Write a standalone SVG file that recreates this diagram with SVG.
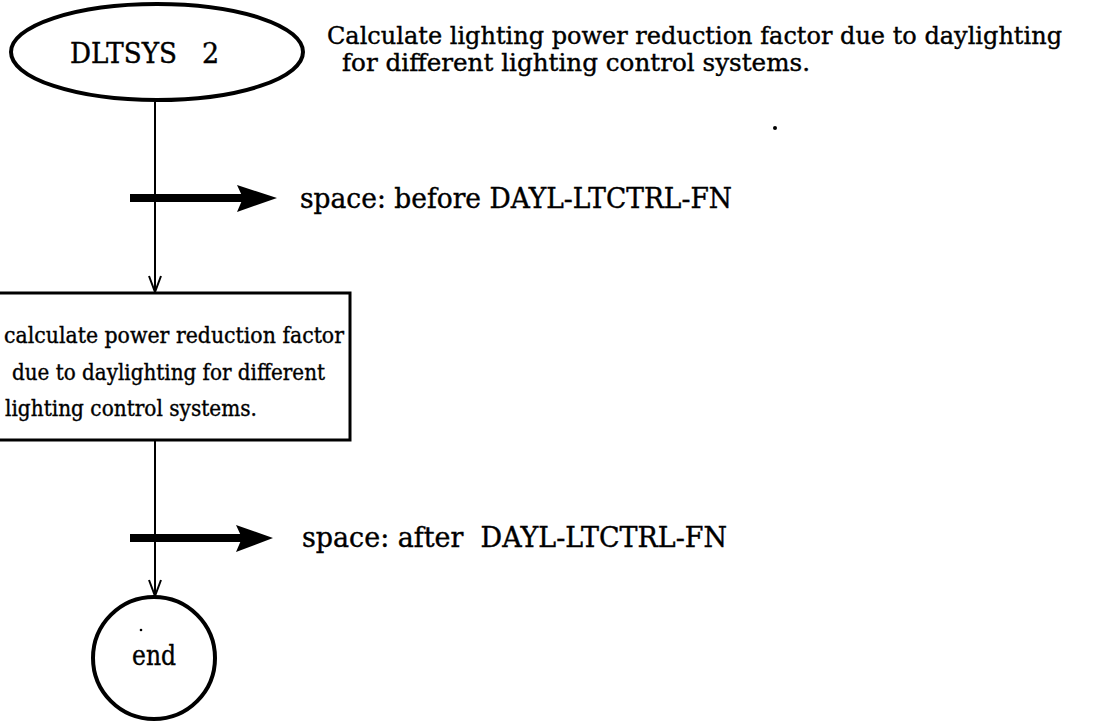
<svg xmlns="http://www.w3.org/2000/svg" width="1094" height="723" viewBox="0 0 1094 723">
<style>
  text { font-family: "DejaVu Serif", "Liberation Serif", serif; fill: #000; stroke: #000; stroke-width: 0.4; }
  .big { font-size: 27px; }
  .head1 { font-size: 25px; }
  .box { font-size: 23px; }
  .outline { fill: #fff; stroke: #000; stroke-width: 4; }
  .thin { fill: none; stroke: #000; stroke-width: 2; }
  .fat { fill: none; stroke: #000; stroke-width: 8; }
  .head { fill: #000; stroke: none; }
</style>
<defs>
  <marker id="open" viewBox="0 0 18 14" refX="17" refY="7" markerWidth="18" markerHeight="14" markerUnits="userSpaceOnUse" orient="auto">
    <path d="M1,1 L17,7 L1,13" fill="none" stroke="#000" stroke-width="2"/>
  </marker>
</defs>
<rect width="1094" height="723" fill="#fff"/>

<g id="connectors">
  <line class="thin" x1="155" y1="102" x2="155" y2="292" marker-end="url(#open)"/>
  <line class="thin" x1="155" y1="440" x2="155" y2="596" marker-end="url(#open)"/>
  <g id="fat-arrow-before">
    <line class="fat" x1="130" y1="198" x2="245" y2="198"/>
    <path class="head" d="M237,185 L277,198 L237,212 L243,198 Z"/>
  </g>
  <g id="fat-arrow-after">
    <line class="fat" x1="130" y1="538" x2="244" y2="538"/>
    <path class="head" d="M236,525 L273,538 L236,552 L242,538 Z"/>
  </g>
</g>

<g id="node-start">
  <ellipse class="outline" cx="157" cy="52" rx="146" ry="48"/>
  <text class="big" x="70" y="63" textLength="107" lengthAdjust="spacingAndGlyphs">DLTSYS</text>
  <text class="big" x="202" y="63">2</text>
</g>

<g id="description">
  <text class="head1" x="327" y="44" textLength="735" lengthAdjust="spacingAndGlyphs">Calculate lighting power reduction factor due to daylighting</text>
  <text class="head1" x="342" y="71" textLength="468" lengthAdjust="spacingAndGlyphs">for different lighting control systems.</text>
  <circle cx="775" cy="128" r="2" fill="#000"/>
</g>

<g id="label-before">
  <text class="big" x="300" y="208" textLength="432" lengthAdjust="spacingAndGlyphs">space: before DAYL-LTCTRL-FN</text>
</g>

<g id="node-process">
  <rect class="outline" x="-20" y="293" width="370" height="147" style="stroke-width:3"/>
  <text class="box" x="4" y="343" textLength="340" lengthAdjust="spacingAndGlyphs">calculate power reduction factor</text>
  <text class="box" x="12" y="380" textLength="313" lengthAdjust="spacingAndGlyphs">due to daylighting for different</text>
  <text class="box" x="5" y="416" textLength="252" lengthAdjust="spacingAndGlyphs">lighting control systems.</text>
</g>

<g id="label-after">
  <text class="big" x="302" y="547" textLength="425" lengthAdjust="spacingAndGlyphs" xml:space="preserve">space: after  DAYL-LTCTRL-FN</text>
</g>

<g id="node-end">
  <circle class="outline" cx="154" cy="658" r="61"/>
  <circle cx="141" cy="630" r="1.3" fill="#000" stroke="none"/>
  <text class="big" x="154" y="665" text-anchor="middle" textLength="44" lengthAdjust="spacingAndGlyphs">end</text>
</g>
</svg>
